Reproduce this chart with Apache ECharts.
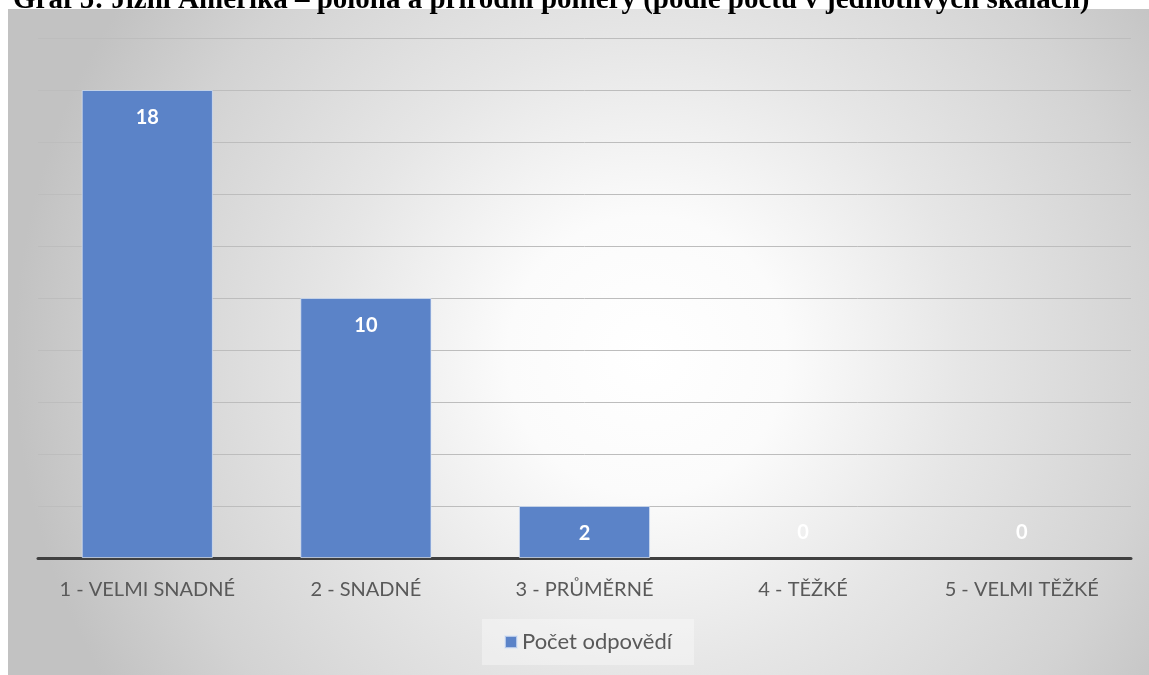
<!DOCTYPE html>
<html>
<head>
<meta charset="utf-8">
<script src="https://cdn.jsdelivr.net/npm/echarts@6/dist/echarts.min.js"></script>
<style>
  html, body { margin: 0; padding: 0; background: #ffffff; }
  #chart { width: 1149px; height: 675px; }
</style>
</head>
<body>
<div id="chart"></div>
<script>
// Survey answers: how hard was the topic, counted per scale step
const chartTitle = 'Graf 5: Jižní Amerika – poloha a přírodní poměry (podle počtu v jednotlivých škálách)';
const categories = ['1 - VELMI SNADNÉ', '2 - SNADNÉ', '3 - PRŮMĚRNÉ', '4 - TĚŽKÉ', '5 - VELMI TĚŽKÉ'];
const counts = [18, 10, 2, 0, 0];
const seriesName = 'Počet odpovědí';
const axisMax = 20;
const axisStep = 2;

const labelFont = 'Lato, "Open Sans", sans-serif';
const barColor = '#5b83c8';

const chart = echarts.init(document.getElementById('chart'), null, { renderer: 'canvas' });

// empty columns keep their value label just above the axis line
const barData = counts.map(v => ({
  value: v,
  itemStyle: v === 0 ? { borderWidth: 0 } : {},
  label: v === 0
    ? { position: 'top', distance: 15 }
    : { position: 'insideTop', distance: 18 }
}));

chart.setOption({
  animation: false,
  backgroundColor: '#ffffff',
  graphic: [
    {
      type: 'rect',
      z: -10,
      silent: true,
      shape: { x: 8, y: 9, width: 1141, height: 666 },
      style: {
        fill: new echarts.graphic.RadialGradient(0.56, 0.52, 0.95, [
          { offset: 0, color: '#ffffff' },
          { offset: 0.22, color: '#fbfbfb' },
          { offset: 0.5, color: '#e6e6e6' },
          { offset: 0.8, color: '#d3d3d3' },
          { offset: 1, color: '#c2c2c2' }
        ])
      }
    },
    {
      type: 'text',
      z: 10,
      silent: true,
      style: {
        x: 13,
        y: 1,
        text: chartTitle,
        font: 'bold 29px "Liberation Serif", "Times New Roman", serif',
        fill: '#000000',
        verticalAlign: 'middle',
        align: 'left'
      }
    }
  ],
  grid: { left: 38, right: 18, top: 38, bottom: 117, containLabel: false },
  legend: {
    data: [seriesName],
    left: 482,
    top: 619,
    icon: 'rect',
    itemWidth: 12,
    itemHeight: 12,
    itemGap: 6,
    padding: [12, 22, 12, 22],
    backgroundColor: 'rgba(255,255,255,0.35)',
    textStyle: { fontFamily: labelFont, fontSize: 22, color: '#595959' }
  },
  xAxis: {
    type: 'category',
    data: categories,
    axisLine: { show: true, lineStyle: { color: '#404040', width: 3 } },
    axisTick: { show: false },
    axisLabel: { interval: 0, fontFamily: labelFont, fontSize: 20, color: '#595959', margin: 22 },
    splitLine: { show: false }
  },
  yAxis: {
    type: 'value',
    min: 0,
    max: axisMax,
    interval: axisStep,
    axisLine: { show: false },
    axisTick: { show: false },
    axisLabel: { show: false },
    splitLine: { show: true, lineStyle: { color: '#bdbdbd', width: 1 } }
  },
  series: [
    {
      name: seriesName,
      type: 'bar',
      data: barData,
      barWidth: '60%',
      itemStyle: { color: barColor, borderColor: 'rgba(220,230,245,0.7)', borderWidth: 1 },
      label: {
        show: true,
        color: '#ffffff',
        fontFamily: labelFont,
        fontWeight: 'bold',
        fontSize: 20
      }
    }
  ]
});
</script>
</body>
</html>
